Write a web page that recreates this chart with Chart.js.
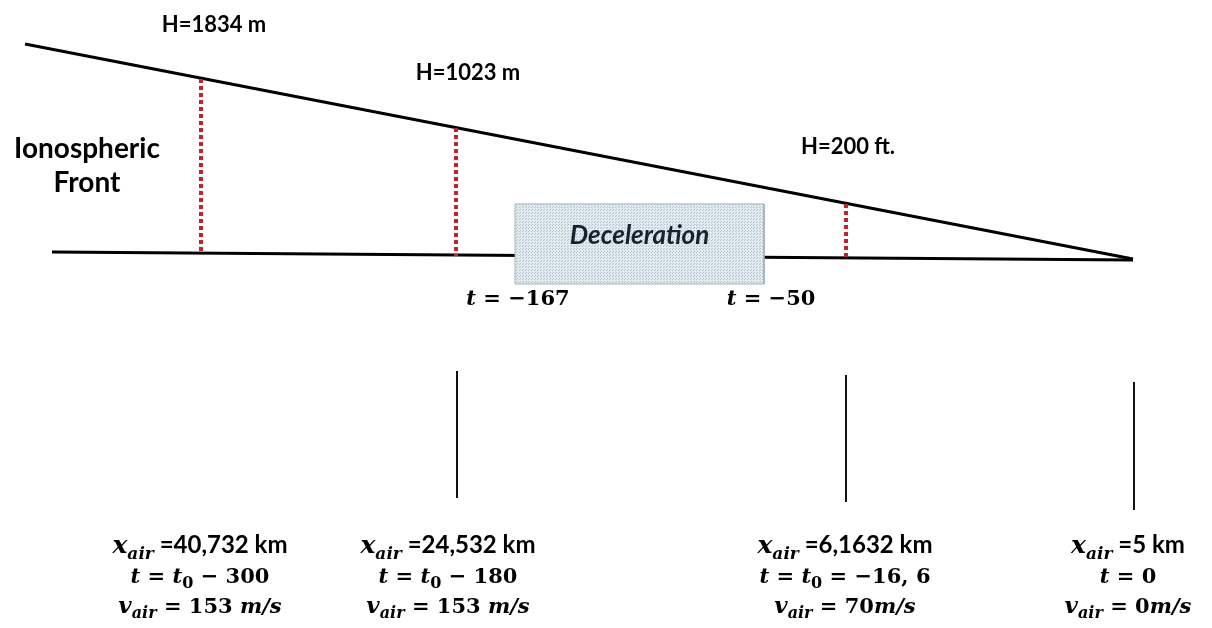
<!DOCTYPE html>
<html>
<head>
<meta charset="utf-8">
<script src="https://cdn.jsdelivr.net/npm/chart.js@4/dist/chart.umd.min.js"></script>
<style>
  html, body { margin: 0; padding: 0; background: #fff; }
  #wrap { width: 1212px; height: 628px; }
</style>
</head>
<body>
<div id="wrap"><canvas id="myChart"></canvas></div>
<script>
// diagram units (x along the track, y downward from the top of the figure)
var slopeX = [25, 1133];
var slopeY = [44, 259];
var groundX = [52, 1133];
var groundY = [252, 260];

// red dotted height markers
var markX = [201, 456, 846];
var markTop = [79, 128, 204];
var markBase = [251, 256, 258];
var heightLabels = ["H=1834 m", "H=1023 m", "H=200 ft."];

// black station lines
var stationX = [457, 846, 1134];
var stationTop = [371, 375, 382];
var stationBase = [498, 502, 510];

// deceleration box
var boxX = [515, 764];
var boxY = [204, 284];
var boxTimes = ["\u2212167", "\u221250"];

// bottom label columns
var colX = ["40,732", "24,532", "6,1632", "5"];
var colT = [["t0", "\u2212 300"], ["t0", "\u2212 180"], ["t0", "= \u221216, 6"], [null, "0"]];
var colV = ["153 ", "153 ", "70", "0"];

function pts(xs, ys) {
  return xs.map(function (x, i) { return { x: x, y: ys[i] }; });
}

// dotted texture for the box
var pc = document.createElement("canvas");
pc.width = 3; pc.height = 3;
var pctx = pc.getContext("2d");
pctx.fillStyle = "#e1ebf0";
pctx.fillRect(0, 0, 3, 3);
pctx.fillStyle = "#afc2cc";
pctx.fillRect(0, 0, 1, 1);
pctx.fillRect(1, 2, 1, 1);
var boxPattern = pctx.createPattern(pc, "repeat");

var datasets = [];
datasets.push({ data: pts(slopeX, slopeY), borderColor: "#000", borderWidth: 3, order: 5 });
datasets.push({ data: pts(groundX, groundY), borderColor: "#000", borderWidth: 3, order: 5 });
markX.forEach(function (x, i) {
  datasets.push({ data: pts([x, x], [markTop[i], markBase[i]]), borderColor: "#c0222e",
    borderWidth: 4, borderDash: [4, 3], order: 4 });
});
stationX.forEach(function (x, i) {
  datasets.push({ data: pts([x, x], [stationTop[i], stationBase[i]]), borderColor: "#111",
    borderWidth: 2, order: 4 });
});
datasets.push({ data: pts(boxX, [boxY[0], boxY[0]]), borderColor: "rgba(0,0,0,0)",
  backgroundColor: boxPattern, fill: { value: boxY[1] }, order: 2 });
datasets.push({ data: pts([boxX[0], boxX[1], boxX[1], boxX[0], boxX[0]], [boxY[0], boxY[0], boxY[1], boxY[1], boxY[0]]),
  borderColor: "#a3afb7", borderWidth: 1, order: 1 });

var SANS = '"Lato"';
var SERIF = '"DejaVu Serif"';
var MI = "italic bold 21px " + SERIF;
var MR = "bold 21px " + SERIF;
var SUB = "italic bold 16px " + SERIF;
var SUBR = "bold 16px " + SERIF;
var TX = "bold 24px " + SANS;

function drawRich(ctx, segs, cx, base) {
  var w = 0;
  segs.forEach(function (s) { ctx.font = s.f; s.w = ctx.measureText(s.t).width; w += s.w; });
  var x = cx - w / 2;
  segs.forEach(function (s) {
    ctx.font = s.f;
    ctx.fillText(s.t, x, base + (s.dy || 0));
    x += s.w;
  });
}

var labelPlugin = {
  id: "labels",
  afterDatasetsDraw: function (chart) {
    var ctx = chart.ctx, sx = chart.scales.x, sy = chart.scales.y;
    var X = function (v) { return sx.getPixelForValue(v); };
    var Y = function (v) { return sy.getPixelForValue(v); };
    ctx.save();
    ctx.fillStyle = "#000";
    ctx.textBaseline = "alphabetic";
    ctx.textAlign = "left";

    // height labels
    var hPos = [[214, 32], [468, 80], [848, 154]];
    heightLabels.forEach(function (t, i) {
      drawRich(ctx, [{ t: t, f: "bold 22px " + SANS }], X(hPos[i][0]), Y(hPos[i][1]));
    });

    drawRich(ctx, [{ t: "Ionospheric", f: "bold 28px " + SANS }], X(87), Y(158));
    drawRich(ctx, [{ t: "Front", f: "bold 28px " + SANS }], X(87), Y(192));

    ctx.fillStyle = "#18212e";
    drawRich(ctx, [{ t: "Deceleration", f: "italic bold 26px " + SANS }], X((boxX[0] + boxX[1]) / 2), Y(244));
    ctx.fillStyle = "#000";

    var tPos = [518, 771];
    boxTimes.forEach(function (v, i) {
      drawRich(ctx, [{ t: "t", f: MI }, { t: " = " + v, f: MR }], X(tPos[i]), Y(305));
    });

    var cx = [200, 448, 845, 1128];
    cx.forEach(function (c, i) {
      drawRich(ctx, [{ t: "x", f: "italic bold 25px " + SERIF }, { t: "air", f: "italic bold 17px " + SERIF, dy: 6 }, { t: " =" + colX[i] + " km", f: TX }], X(c), Y(553));
      var r2 = [{ t: "t", f: MI }, { t: " = ", f: MR }];
      if (colT[i][0]) {
        r2.push({ t: "t", f: MI }, { t: "0", f: SUBR, dy: 5 }, { t: " " + colT[i][1], f: MR });
      } else {
        r2.push({ t: colT[i][1], f: MR });
      }
      drawRich(ctx, r2, X(c), Y(583));
      drawRich(ctx, [{ t: "v", f: "italic bold 23px " + SERIF }, { t: "air", f: SUB, dy: 5 }, { t: " = " + colV[i], f: MR }, { t: "m/s", f: MI }], X(c), Y(613));
    });
    ctx.restore();
  }
};

new Chart("myChart", {
  type: "scatter",
  data: { datasets: datasets },
  options: {
    responsive: true,
    maintainAspectRatio: false,
    animation: false,
    showLine: true,
    layout: { padding: 0 },
    elements: { point: { radius: 0 }, line: { tension: 0, borderCapStyle: "butt" } },
    plugins: { legend: { display: false }, tooltip: { enabled: false } },
    scales: {
      x: { type: "linear", min: 0, max: 1212, display: false },
      y: { type: "linear", min: 0, max: 628, reverse: true, display: false }
    }
  },
  plugins: [labelPlugin]
});
</script>
</body>
</html>
